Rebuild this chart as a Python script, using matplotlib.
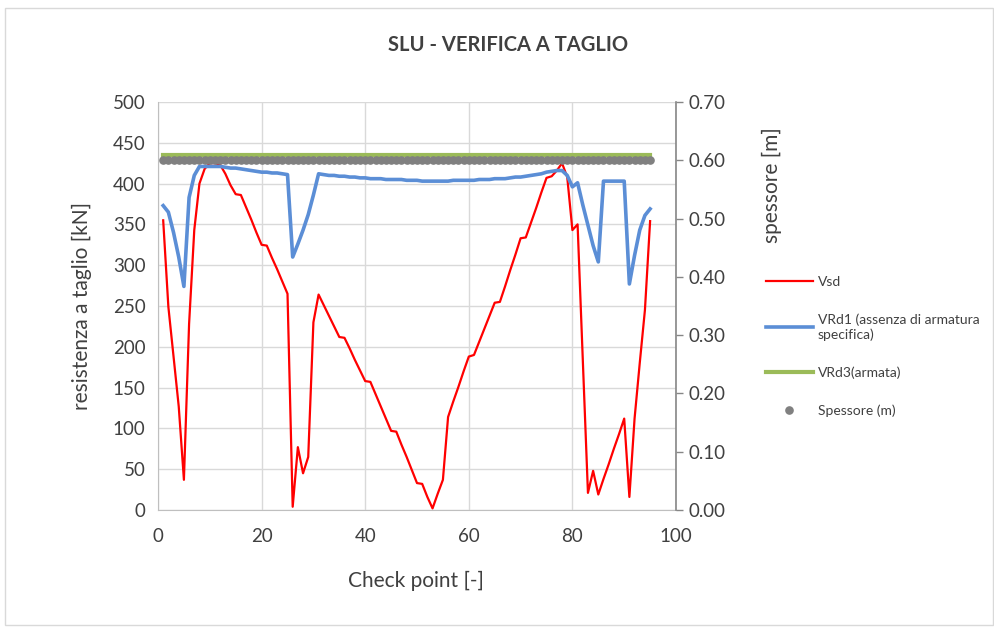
import matplotlib
matplotlib.use("Agg")
import matplotlib.pyplot as plt
from matplotlib.patches import Rectangle
from matplotlib.ticker import FormatStrFormatter

plt.rcParams['font.family'] = ['Lato', 'DejaVu Sans']

# Check points along the element
check_point = list(range(1, 96))

# Design shear force Vsd [kN]
vsd = [355, 249, 188, 127, 37, 228, 343, 400, 418, 425,
       425, 423, 412, 398, 387, 386, 371, 356, 340, 325,
       324, 309, 295, 280, 265, 4, 77, 45, 65, 230,
       264, 251, 238, 225, 212, 211, 198, 184, 171, 158,
       157, 142, 127, 112, 97, 96, 80, 65, 49, 33,
       32, 16, 2, 20, 37, 114, 133, 151, 170, 188,
       190, 206, 222, 238, 254, 255, 274, 294, 313, 333,
       334, 352, 370, 389, 407, 409, 416, 425, 408, 343,
       350, 185, 21, 48, 19, 38, 56, 75, 93, 112,
       16, 112, 180, 245, 354]

# Shear resistance without specific reinforcement VRd1 [kN]
vrd1 = [373, 365, 340, 310, 274, 383, 410, 421, 421, 421,
        421, 421, 420, 419, 419, 418, 417, 416, 415, 414,
        414, 413, 413, 412, 411, 310, 326, 343, 362, 386,
        412, 411, 410, 410, 409, 409, 408, 408, 407, 407,
        406, 406, 406, 405, 405, 405, 405, 404, 404, 404,
        403, 403, 403, 403, 403, 403, 404, 404, 404, 404,
        404, 405, 405, 405, 406, 406, 406, 407, 408, 408,
        409, 410, 411, 412, 414, 415, 416, 416, 410, 396,
        401, 374, 349, 324, 304, 403, 403, 403, 403, 403,
        277, 312, 343, 361, 369]

# Shear resistance with reinforcement VRd3 [kN]
vrd3 = [435] * 95

# Slab thickness [m]
spessore = [0.60] * 95

x_ticks = [0, 20, 40, 60, 80, 100]
y_ticks = [0, 50, 100, 150, 200, 250, 300, 350, 400, 450, 500]
y2_ticks = [0.0, 0.1, 0.2, 0.3, 0.4, 0.5, 0.6, 0.7]

fig = plt.figure(figsize=(9.95, 6.33), dpi=100)
fig.patches.append(Rectangle((0.005, 0.012), 0.993, 0.975, transform=fig.transFigure,
                             fill=False, edgecolor='#d9d9d9', linewidth=1.0))

ax = fig.add_axes([0.1588, 0.1943, 0.5206, 0.6446])
ax2 = ax.twinx()

l_vsd, = ax.plot(check_point, vsd, color='#ff0000', lw=1.6, label='Vsd', zorder=3)
l_vrd1, = ax.plot(check_point, vrd1, color='#5b8ed6', lw=2.6,
                  label='VRd1 (assenza di armatura\nspecifica)', zorder=4)
l_vrd3, = ax.plot(check_point, vrd3, color='#9bbb59', lw=3.0, label='VRd3(armata)', zorder=5)
l_sp, = ax2.plot(check_point, spessore, linestyle='none', marker='o', markersize=5.2,
                 color='#808080', label='Spessore (m)')

ax.set_xlim(0, 100)
ax.set_ylim(0, 500)
ax2.set_ylim(0, 0.7)
ax.set_xticks(x_ticks)
ax.set_yticks(y_ticks)
ax2.set_yticks(y2_ticks)
ax2.yaxis.set_major_formatter(FormatStrFormatter('%.2f'))

ax.grid(True, color='#d9d9d9', linewidth=1.0)
ax.set_axisbelow(True)

ax.spines['top'].set_visible(False)
ax2.spines['top'].set_visible(False)
ax.spines['right'].set_visible(False)
ax.spines['left'].set_color('#bfbfbf')
ax.spines['bottom'].set_color('#bfbfbf')
ax2.spines['left'].set_visible(False)
ax2.spines['bottom'].set_visible(False)
ax2.spines['right'].set_color('#868686')
ax2.spines['right'].set_linewidth(1.2)

ax.tick_params(axis='both', length=0, labelsize=13.5, colors='#404040')
ax.tick_params(axis='y', pad=9)
ax.tick_params(axis='x', pad=13)
ax2.tick_params(axis='y', length=5, width=1.0, color='#868686', labelsize=13.5,
                labelcolor='#404040', pad=4)

ax.set_xlabel('Check point [-]', fontsize=15, color='#404040')
ax.xaxis.set_label_coords(0.498, -0.148)
ax.set_ylabel('resistenza a taglio [kN]', fontsize=15, color='#404040')
ax.yaxis.set_label_coords(-0.128, 0.5)
ax2.set_ylabel('spessore [m]', fontsize=15, color='#404040')
ax2.yaxis.set_label_coords(1.165, 0.797)

fig.text(0.511, 0.929, 'SLU - VERIFICA A TAGLIO', ha='center', va='center',
         fontsize=14.5, fontweight='bold', color='#404040')

fig.legend(handles=[l_vsd, l_vrd1, l_vrd3, l_sp], loc='upper left',
           bbox_to_anchor=(0.757, 0.584), frameon=False, fontsize=10,
           labelspacing=1.85, handlelength=3.4, handletextpad=0.35,
           labelcolor='#404040')

fig.savefig('out.png', dpi=100)
